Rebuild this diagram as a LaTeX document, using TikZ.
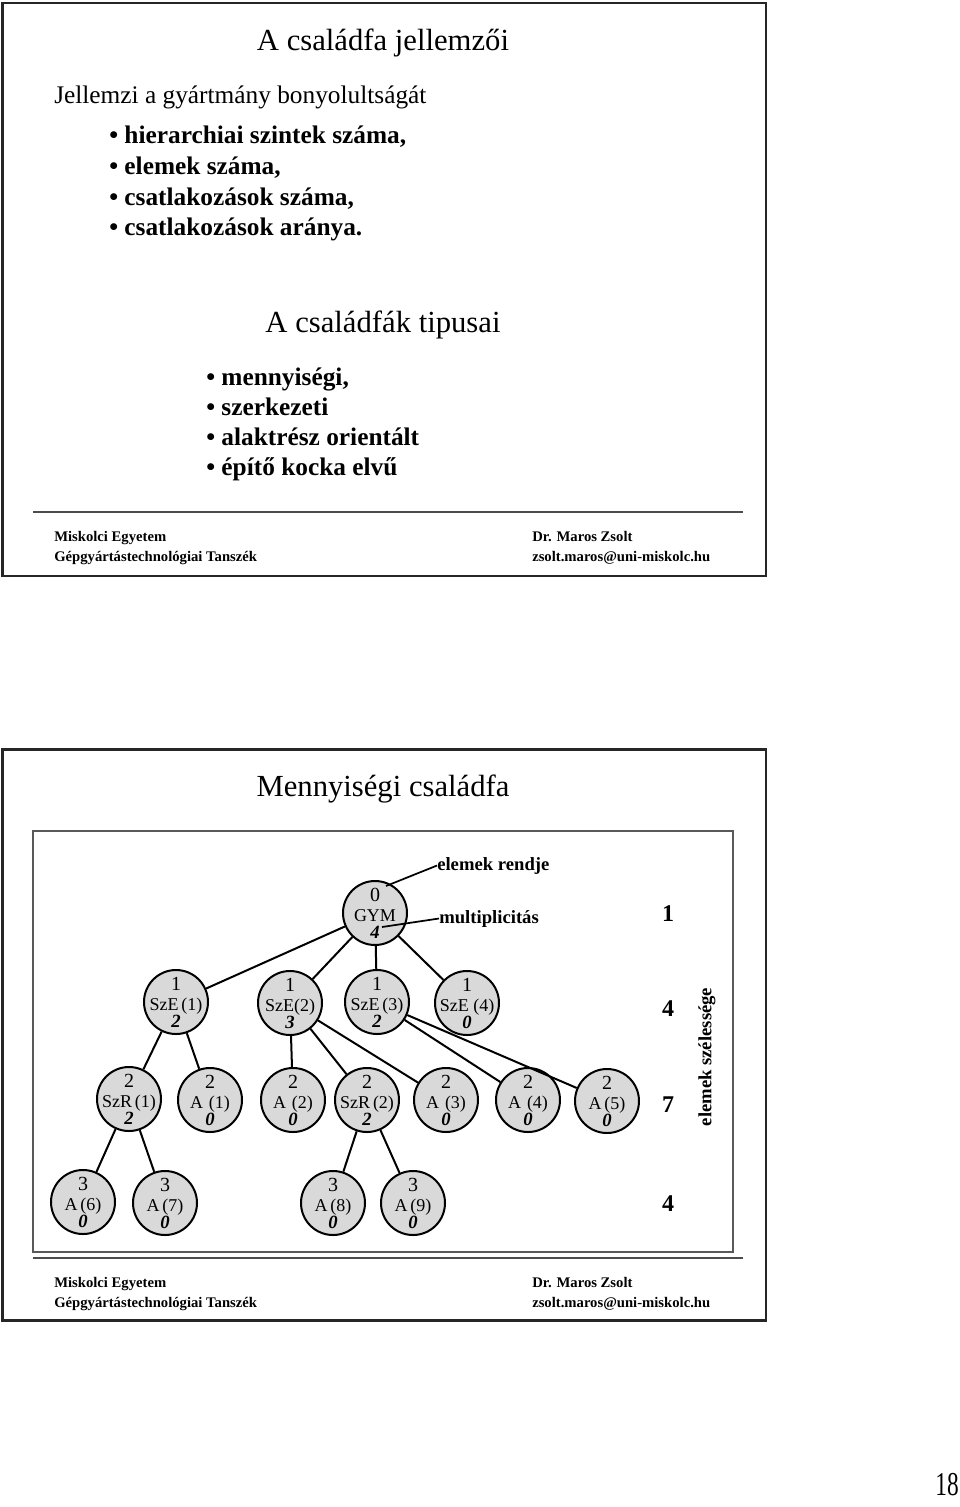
\documentclass[tikz,border=0pt]{standalone}
\usepackage{fontspec}
\usepackage{graphicx}
\setmainfont{Liberation Serif}
\newcommand{\famnode}[6]{%
  \node[elem] (#1) at (#2,#3) {};
  \node[lvltext] (#1l) at (#2,#3-12) {#4};
  \node[nametext] (#1n) at (#2,#3+8) {#5};
  \node[multtext] (#1m) at (#2,#3+25) {#6};
}
\begin{document}
\begin{tikzpicture}[x=0.75pt,y=-0.75pt,
  slideframe/.style={draw=black!85, line width=2.2pt},
  rulestyle/.style={draw=black!70, line width=1pt},
  picbox/.style={draw=black!65, line width=1pt},
  titletext/.style={font=\fontsize{23}{27}\selectfont, anchor=base, inner sep=0pt},
  bodytext/.style={font=\fontsize{19}{23}\selectfont, anchor=base west, inner sep=0pt},
  bullettext/.style={font=\fontsize{19}{23}\selectfont\bfseries, anchor=base west, inner sep=0pt},
  foottext/.style={font=\fontsize{11}{13}\selectfont\bfseries, anchor=base west, inner sep=0pt},
  elem/.style={circle, draw=black, line width=1.5pt, fill=black!15, minimum size=48pt, inner sep=0pt},
  lvltext/.style={font=\fontsize{15}{16}\selectfont, anchor=base, inner sep=0pt},
  nametext/.style={font=\fontsize{13.5}{14}\selectfont, anchor=base, inner sep=0pt},
  multtext/.style={font=\fontsize{14}{15}\selectfont\bfseries\itshape, anchor=base, inner sep=0pt},
  treeedge/.style={draw=black, line width=1.5pt},
  leader/.style={draw=black, line width=1.3pt},
  heavylabel/.style={font=\fontsize{14}{16}\selectfont\bfseries, inner sep=0pt},
  levelcount/.style={font=\fontsize{18}{20}\selectfont\bfseries, anchor=base, inner sep=0pt}
]
\useasboundingbox (0,0) rectangle (960,1507);
\fill[white] (0,0) rectangle (960,1507);

% ---------- slide 1 ----------
\draw[slideframe] (2.5,3) rectangle (766,576);
\node[titletext] (t1) at (383,50) {A családfa jellemzői};
\node[bodytext] (j1) at (54,103) {Jellemzi a gyártmány bonyolultságát};
\node[bullettext] (b1) at (109,143) {\textbullet\ hierarchiai szintek száma,};
\node[bullettext] (b2) at (109,174) {\textbullet\ elemek száma,};
\node[bullettext] (b3) at (109,205) {\textbullet\ csatlakozások száma,};
\node[bullettext] (b4) at (109,235) {\textbullet\ csatlakozások aránya.};
\node[titletext] (t2) at (383,332) {A családfák tipusai};
\node[bullettext] (c1) at (206,385) {\textbullet\ mennyiségi,};
\node[bullettext] (c2) at (206,415) {\textbullet\ szerkezeti};
\node[bullettext] (c3) at (206,445.5) {\textbullet\ alaktrész orientált};
\node[bullettext] (c4) at (206,475.5) {\textbullet\ építő kocka elvű};
\coordinate (r1a) at (33,512);
\coordinate (r1b) at (743,512);
\draw[rulestyle] (r1a) -- (r1b);
\node[foottext] (f1) at (54,541) {Miskolci Egyetem};
\node[foottext] (f2) at (54,561) {Gépgyártástechnológiai Tanszék};
\node[foottext] (f3) at (532,541) {Dr. Maros Zsolt};
\node[foottext] (f4) at (532,561) {zsolt.maros@uni-miskolc.hu};

% ---------- slide 2 ----------
\draw[slideframe] (2.5,749.5) rectangle (766,1320.5);
\node[titletext] (t3) at (383,796) {Mennyiségi családfa};
\draw[picbox] (33,831) rectangle (733,1252);
\coordinate (r2a) at (33,1258);
\coordinate (r2b) at (743,1258);
\draw[rulestyle] (r2a) -- (r2b);
\node[foottext] (g1) at (54,1287) {Miskolci Egyetem};
\node[foottext] (g2) at (54,1307) {Gépgyártástechnológiai Tanszék};
\node[foottext] (g3) at (532,1287) {Dr. Maros Zsolt};
\node[foottext] (g4) at (532,1307) {zsolt.maros@uni-miskolc.hu};

% tree
\famnode{gym}{375}{913}{0}{GYM}{4}
\famnode{sze1}{176}{1002}{1}{SzE\,(1)}{2}
\famnode{sze2}{290}{1003}{1}{SzE(2)}{3}
\famnode{sze3}{377}{1002}{1}{SzE\,(3)}{2}
\famnode{sze4}{467}{1003}{1}{SzE (4)}{0}
\famnode{szr1}{129}{1099}{2}{SzR\,(1)}{2}
\famnode{a1}{210}{1100}{2}{A\,\,(1)}{0}
\famnode{a2}{293}{1100}{2}{A\,\,(2)}{0}
\famnode{szr2}{367}{1100}{2}{SzR\,(2)}{2}
\famnode{a3}{446}{1100}{2}{A\,\,(3)}{0}
\famnode{a4}{528}{1100}{2}{A\,\,(4)}{0}
\famnode{a5}{607}{1101}{2}{A\,(5)}{0}
\famnode{a6}{83}{1202}{3}{A\,(6)}{0}
\famnode{a7}{165}{1203}{3}{A\,(7)}{0}
\famnode{a8}{333}{1203}{3}{A\,(8)}{0}
\famnode{a9}{413}{1203}{3}{A\,(9)}{0}

\draw[treeedge] (gym) -- (sze1);
\draw[treeedge] (gym) -- (sze2);
\draw[treeedge] (gym) -- (sze3);
\draw[treeedge] (gym) -- (sze4);
\draw[treeedge] (sze1) -- (szr1);
\draw[treeedge] (sze1) -- (a1);
\draw[treeedge] (sze2) -- (a2);
\draw[treeedge] (sze2) -- (szr2);
\draw[treeedge] (sze2) -- (a3);
\draw[treeedge] (sze3) -- (a4);
\draw[treeedge] (sze3) -- (a5);
\draw[treeedge] (szr1) -- (a6);
\draw[treeedge] (szr1) -- (a7);
\draw[treeedge] (szr2) -- (a8);
\draw[treeedge] (szr2) -- (a9);

% labels
\node[heavylabel, anchor=base west] (lab1) at (437,870) {elemek rendje};
\node[heavylabel, anchor=base west] (lab2) at (439,923) {multiplicitás};
\coordinate (lead1) at (386,886);
\coordinate (lead2) at (382,927);
\draw[leader] (lead1) -- (lab1.west);
\draw[leader] (lead2) -- (lab2.west);

\node[levelcount] (n1) at (668,921) {1};
\node[levelcount] (n2) at (668,1016) {4};
\node[levelcount] (n3) at (668,1112) {7};
\node[levelcount] (n4) at (668,1211) {4};
\node[heavylabel, rotate=90] (wid) at (707,1057) {elemek szélessége};

% page number
\node[anchor=base east, inner sep=0pt] (pg) at (959,1495) {\scalebox{0.7}[1]{\fontsize{25}{30}\selectfont 18}};
\end{tikzpicture}
\end{document}
